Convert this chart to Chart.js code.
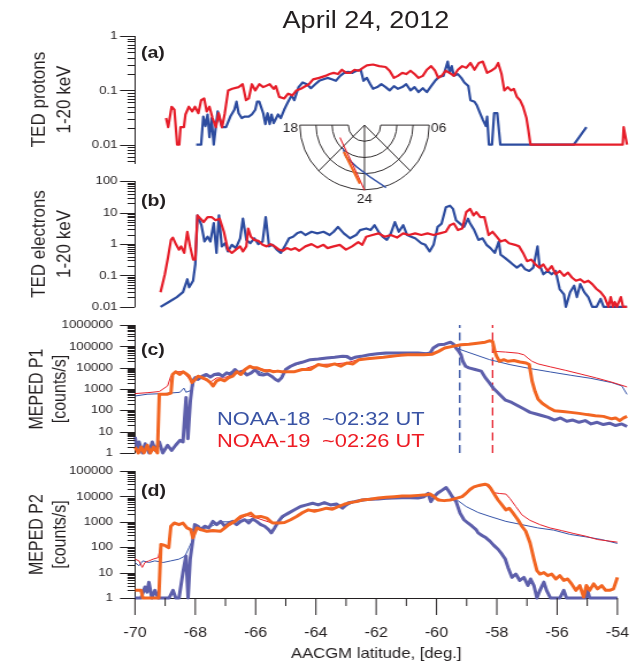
<!DOCTYPE html>
<html>
<head>
<meta charset="utf-8">
<script src="https://cdn.jsdelivr.net/npm/chart.js@4.4.1/dist/chart.umd.min.js"></script>
<style>
html, body { margin: 0; padding: 0; background: #fff; overflow: hidden; width: 639px; height: 666px; }
#fig { position: absolute; left: 0; top: 0; height: 666px; transform-origin: 0 0; font-family: 'Liberation Sans', Arial, sans-serif; color: #231f20; }
#fig canvas { position: absolute; left: 0; }
.lab { position: absolute; white-space: nowrap; line-height: 1; }
</style>
</head>
<body>
<div id="fig"></div>
<script>
// lat (AACGM, deg) / value pairs
const tedP19 = [[-68.99,0.031],[-68.92,0.021],[-68.81,0.05],[-68.72,0.044],[-68.63,0.01],[-68.56,0.01],[-68.52,0.021],[-68.41,0.021],[-68.36,0.036],[-68.25,0.05],[-68.14,0.041],[-68.05,0.05],[-67.94,0.038],[-67.85,0.066],[-67.75,0.071],[-67.67,0.041],[-67.58,0.05],[-67.48,0.031],[-67.37,0.021],[-67.28,0.038],[-67.17,0.021],[-67.08,0.038],[-66.97,0.1],[-66.84,0.107],[-66.63,0.115],[-66.5,0.13],[-66.39,0.066],[-66.3,0.071],[-66.2,0.13],[-66.09,0.1],[-65.96,0.13],[-65.83,0.115],[-65.62,0.13],[-65.49,0.107],[-65.42,0.12],[-65.31,0.076],[-65.15,0.071],[-65.02,0.087],[-64.88,0.081],[-64.75,0.1],[-64.61,0.107],[-64.48,0.118],[-64.34,0.13],[-64.21,0.16],[-64.01,0.17],[-63.81,0.185],[-63.67,0.2],[-63.54,0.21],[-63.4,0.2],[-63.27,0.24],[-63.13,0.21],[-63.0,0.21],[-62.86,0.24],[-62.73,0.23],[-62.59,0.26],[-62.46,0.29],[-62.26,0.3],[-62.06,0.28],[-61.85,0.27],[-61.72,0.23],[-61.58,0.17],[-61.45,0.185],[-61.31,0.21],[-61.18,0.2],[-61.04,0.23],[-60.91,0.2],[-60.78,0.17],[-60.64,0.185],[-60.51,0.24],[-60.37,0.28],[-60.24,0.23],[-60.14,0.17],[-60.03,0.185],[-59.9,0.23],[-59.77,0.21],[-59.63,0.185],[-59.5,0.24],[-59.36,0.28],[-59.23,0.26],[-59.09,0.32],[-58.96,0.24],[-58.82,0.32],[-58.69,0.34],[-58.55,0.21],[-58.42,0.23],[-58.28,0.26],[-58.19,0.32],[-58.08,0.2],[-57.99,0.1],[-57.88,0.115],[-57.77,0.1],[-57.68,0.107],[-57.58,0.076],[-57.48,0.066],[-57.38,0.05],[-57.27,0.031],[-57.21,0.019],[-57.14,0.01],[-54.14,0.01],[-54.11,0.021],[-54.0,0.01]];
const tedP18 = [[-68.01,0.01],[-67.85,0.01],[-67.78,0.033],[-67.71,0.022],[-67.64,0.036],[-67.58,0.0137],[-67.51,0.031],[-67.44,0.01],[-67.37,0.022],[-67.31,0.041],[-67.24,0.029],[-67.17,0.021],[-67.04,0.021],[-66.9,0.033],[-66.77,0.044],[-66.7,0.062],[-66.63,0.038],[-66.53,0.031],[-66.43,0.033],[-66.3,0.033],[-66.2,0.036],[-66.09,0.044],[-66.03,0.062],[-65.96,0.062],[-65.83,0.038],[-65.76,0.024],[-65.69,0.038],[-65.62,0.024],[-65.56,0.036],[-65.49,0.025],[-65.35,0.036],[-65.26,0.031],[-65.15,0.044],[-65.02,0.062],[-64.91,0.081],[-64.82,0.066],[-64.68,0.115],[-64.55,0.14],[-64.41,0.13],[-64.28,0.11],[-64.14,0.13],[-64.01,0.15],[-63.87,0.16],[-63.74,0.17],[-63.6,0.16],[-63.47,0.15],[-63.33,0.185],[-63.2,0.21],[-63.07,0.22],[-62.93,0.21],[-62.8,0.23],[-62.66,0.24],[-62.57,0.15],[-62.46,0.17],[-62.35,0.13],[-62.26,0.107],[-62.12,0.115],[-61.99,0.13],[-61.85,0.115],[-61.72,0.1],[-61.58,0.12],[-61.45,0.107],[-61.31,0.115],[-61.18,0.13],[-61.04,0.1],[-60.91,0.115],[-60.78,0.093],[-60.64,0.11],[-60.51,0.093],[-60.37,0.12],[-60.24,0.15],[-60.1,0.18],[-59.97,0.185],[-59.83,0.34],[-59.77,0.21],[-59.7,0.28],[-59.63,0.185],[-59.5,0.2],[-59.39,0.17],[-59.29,0.14],[-59.16,0.12],[-59.09,0.066],[-58.96,0.062],[-58.89,0.054],[-58.78,0.038],[-58.69,0.029],[-58.59,0.022],[-58.55,0.033],[-58.49,0.01],[-58.39,0.01],[-58.32,0.038],[-58.22,0.038],[-58.12,0.01],[-55.73,0.01],[-55.32,0.021]];

const tedE19 = [[-69.17,0.029],[-69.03,0.109],[-68.93,0.36],[-68.83,1.35],[-68.77,1.6],[-68.66,0.94],[-68.57,0.66],[-68.5,0.84],[-68.4,0.52],[-68.3,2.45],[-68.21,0.84],[-68.11,0.32],[-68.04,0.32],[-67.97,8.1],[-67.87,6.4],[-67.77,5.0],[-67.64,7.2],[-67.51,7.2],[-67.38,5.7],[-67.25,6.4],[-67.11,2.45],[-66.98,0.66],[-66.85,0.52],[-66.72,0.66],[-66.58,0.84],[-66.49,0.58],[-66.38,0.84],[-66.32,3.1],[-66.23,1.7],[-66.12,1.35],[-65.99,1.26],[-65.85,0.94],[-65.72,0.84],[-65.59,0.99],[-65.46,0.84],[-65.32,0.66],[-65.19,0.61],[-65.06,0.74],[-64.93,0.66],[-64.79,0.74],[-64.66,0.61],[-64.46,0.84],[-64.26,0.99],[-64.07,0.78],[-63.87,0.94],[-63.74,0.74],[-63.54,0.84],[-63.34,0.94],[-63.14,0.66],[-62.94,0.84],[-62.74,1.14],[-62.61,0.94],[-62.48,1.7],[-62.28,1.93],[-62.08,2.18],[-61.88,1.7],[-61.68,1.93],[-61.48,1.6],[-61.28,2.18],[-61.09,1.93],[-60.89,2.18],[-60.69,1.93],[-60.49,2.18],[-60.29,1.93],[-60.09,2.18],[-59.89,2.45],[-59.76,3.96],[-59.63,4.46],[-59.5,2.77],[-59.36,3.12],[-59.23,10.3],[-59.1,13.1],[-58.99,8.1],[-58.9,10.3],[-58.77,7.2],[-58.64,7.2],[-58.5,1.93],[-58.37,2.45],[-58.24,1.71],[-58.11,1.2],[-57.97,1.35],[-57.84,1.06],[-57.64,0.94],[-57.51,0.84],[-57.38,0.52],[-57.25,0.285],[-57.11,0.321],[-56.98,0.224],[-56.85,0.177],[-56.72,0.224],[-56.58,0.139],[-56.45,0.199],[-56.32,0.109],[-56.19,0.139],[-56.05,0.097],[-55.92,0.123],[-55.79,0.086],[-55.66,0.068],[-55.52,0.076],[-55.39,0.06],[-55.26,0.068],[-55.13,0.053],[-54.99,0.037],[-54.86,0.0294],[-54.73,0.0205],[-54.6,0.01],[-54.53,0.0205],[-54.46,0.01],[-54.4,0.0143],[-54.33,0.01],[-54.2,0.0205],[-54.13,0.01],[-54.0,0.01]];
const tedE18 = [[-69.17,0.01],[-68.9,0.0143],[-68.64,0.0205],[-68.44,0.0294],[-68.3,0.076],[-68.24,0.042],[-68.11,0.068],[-68.04,0.224],[-67.97,8.1],[-67.84,3.96],[-67.74,1.2],[-67.64,1.71],[-67.55,1.2],[-67.44,4.6],[-67.35,0.52],[-67.27,8.1],[-67.18,0.84],[-67.07,1.06],[-66.98,0.58],[-66.85,0.94],[-66.72,0.74],[-66.58,1.52],[-66.49,6.4],[-66.38,1.35],[-66.25,1.06],[-66.12,1.52],[-65.99,0.99],[-65.85,1.2],[-65.75,7.2],[-65.64,0.84],[-65.52,0.94],[-65.39,0.66],[-65.26,0.52],[-65.13,0.84],[-64.99,1.52],[-64.86,1.71],[-64.73,2.18],[-64.6,2.45],[-64.46,1.93],[-64.26,2.45],[-64.07,2.18],[-63.87,2.45],[-63.67,1.93],[-63.54,2.45],[-63.4,3.51],[-63.21,2.18],[-63.01,1.52],[-62.81,1.93],[-62.68,2.77],[-62.48,3.12],[-62.34,2.77],[-62.21,3.96],[-62.08,2.45],[-61.95,1.71],[-61.81,1.35],[-61.68,2.18],[-61.55,5.0],[-61.42,2.45],[-61.28,3.96],[-61.15,1.93],[-61.02,1.71],[-60.89,1.52],[-60.69,1.06],[-60.56,0.94],[-60.42,0.58],[-60.29,0.94],[-60.16,3.51],[-60.03,4.46],[-59.89,14.8],[-59.76,16.6],[-59.66,13.1],[-59.56,5.7],[-59.43,4.46],[-59.3,3.51],[-59.17,6.4],[-59.1,4.46],[-58.97,2.77],[-58.83,1.35],[-58.7,1.52],[-58.57,0.94],[-58.44,0.74],[-58.3,0.52],[-58.17,1.2],[-58.11,0.46],[-57.97,0.362],[-57.84,0.285],[-57.71,0.224],[-57.58,0.177],[-57.44,0.224],[-57.31,0.157],[-57.18,0.139],[-57.05,0.177],[-56.91,0.84],[-56.85,0.224],[-56.72,0.109],[-56.58,0.139],[-56.45,0.109],[-56.32,0.139],[-56.19,0.037],[-56.05,0.025],[-55.99,0.01],[-55.85,0.0294],[-55.72,0.047],[-55.63,0.0205],[-55.52,0.053],[-55.39,0.0294],[-55.26,0.0205],[-55.13,0.01],[-54.99,0.01],[-54.86,0.018],[-54.76,0.01],[-54.0,0.01]];

// MEPED P1 (counts/s): 0 deg telescope (thick) and 90 deg telescope (thin)
const p1n19 = [[-70,1.9],[-69.89,1],[-69.8,1.9],[-69.71,1],[-69.6,2.3],[-69.5,1],[-69.4,1.9],[-69.27,1],[-69.21,570],[-69.14,570],[-68.94,570],[-68.83,650],[-68.78,4800],[-68.68,6400],[-68.54,4800],[-68.44,6400],[-68.34,5200],[-68.24,4000],[-68.15,2000],[-68.04,2800],[-67.95,4000],[-67.81,3400],[-67.68,2800],[-67.55,2000],[-67.46,1380],[-67.35,2400],[-67.22,2800],[-67.09,2400],[-66.95,3400],[-66.82,4000],[-66.69,6400],[-66.56,4800],[-66.42,8200],[-66.26,11700],[-66.16,9800],[-66.03,9800],[-65.89,8200],[-65.76,6900],[-65.63,7400],[-65.5,6400],[-65.36,6900],[-65.23,6400],[-65.1,6400],[-64.83,6400],[-64.57,8200],[-64.3,8200],[-64.04,14000],[-63.77,11700],[-63.51,15000],[-63.31,11700],[-63.11,16700],[-62.91,15000],[-62.72,23800],[-62.45,26000],[-62.19,28500],[-61.92,30600],[-61.66,34000],[-61.39,37800],[-61.13,40600],[-60.86,40600],[-60.6,40600],[-60.33,43000],[-60.13,58000],[-59.93,83000],[-59.67,100000],[-59.4,118000],[-59.14,127000],[-58.87,141000],[-58.61,157000],[-58.48,182000],[-58.37,169000],[-58.3,58000],[-58.24,34000],[-58.15,20000],[-58.01,23800],[-57.88,20000],[-57.68,21600],[-57.48,18500],[-57.28,16700],[-57.18,14000],[-57.09,2400],[-56.99,755],[-56.89,330],[-56.75,210],[-56.56,137],[-56.36,96],[-56.09,89],[-55.83,80],[-55.56,72],[-55.3,63],[-55.03,56],[-54.77,52],[-54.5,40],[-54.37,44],[-54.24,33],[-54.11,44],[-54.0,52]];
const p1n18 = [[-70,5.6],[-69.93,1.6],[-69.87,3.3],[-69.76,1],[-69.67,2.7],[-69.54,1],[-69.44,3.3],[-69.34,1.3],[-69.21,3.3],[-69.1,1],[-68.94,2.3],[-68.81,1.3],[-68.68,2.3],[-68.54,3.9],[-68.44,3.3],[-68.34,400],[-68.28,4.7],[-68.2,280],[-68.12,2400],[-68.04,3400],[-67.95,2800],[-67.81,4000],[-67.68,4800],[-67.55,3600],[-67.42,4800],[-67.28,5200],[-67.15,4000],[-67.02,5700],[-66.89,4800],[-66.75,8200],[-66.62,5700],[-66.49,6900],[-66.36,4500],[-66.22,5700],[-66.09,8200],[-65.96,4800],[-65.83,4500],[-65.7,5200],[-65.56,4000],[-65.43,2800],[-65.34,2400],[-65.23,3400],[-65.1,8200],[-64.94,11700],[-64.77,15000],[-64.57,17900],[-64.3,23800],[-64.04,25600],[-63.77,28500],[-63.51,30600],[-63.25,34000],[-63.09,33000],[-62.98,25600],[-62.85,30600],[-62.65,34000],[-62.38,40600],[-62.12,45000],[-61.85,48500],[-61.59,48500],[-61.32,48500],[-61.06,48500],[-60.79,48500],[-60.53,45000],[-60.4,48500],[-60.3,83000],[-60.13,118000],[-59.93,127000],[-59.74,157000],[-59.64,127000],[-59.56,83000],[-59.47,58000],[-59.4,40600],[-59.34,20000],[-59.25,11700],[-59.14,9800],[-58.94,8200],[-58.74,6900],[-58.61,3400],[-58.48,2000],[-58.34,1070],[-58.15,570],[-57.95,300],[-57.75,233],[-57.55,163],[-57.35,115],[-57.15,80],[-56.95,67],[-56.75,56],[-56.56,47],[-56.36,35],[-56.16,44],[-55.96,31],[-55.76,35],[-55.56,27.5],[-55.36,33],[-55.17,23],[-54.97,27.5],[-54.77,21.5],[-54.57,24.8],[-54.37,19.3],[-54.17,23],[-54.0,17.4]];
const p1n19t = [[-70,610],[-69.6,670],[-69.21,760],[-68.94,1400],[-68.83,4200],[-68.68,6300],[-68.44,6600],[-68.15,2100],[-67.95,3600],[-67.55,2100],[-67.35,3300],[-67.09,3300],[-66.69,6300],[-66.42,8100],[-66.26,11600],[-66.03,9600],[-65.76,8000],[-65.23,6500],[-64.83,6300],[-64.57,8100],[-64.04,14000],[-63.51,15000],[-63.11,17000],[-62.72,24000],[-62.19,28000],[-61.66,33000],[-61.13,40000],[-60.6,40000],[-60.13,58000],[-59.93,83000],[-59.4,118000],[-58.87,141000],[-58.48,180000],[-58.37,170000],[-58.3,58000],[-57.95,54000],[-57.55,48000],[-57.35,40000],[-57.22,28000],[-57.09,20000],[-56.89,15000],[-56.5,11000],[-56.0,7500],[-55.5,5000],[-55.0,3300],[-54.5,2100],[-54.0,1250]];
const p1n18t = [[-70,470],[-69.6,570],[-69.07,610],[-68.54,700],[-68.41,1100],[-68.34,700],[-68.15,900],[-68.04,3000],[-67.81,3800],[-67.55,4300],[-67.15,4400],[-66.75,7600],[-66.36,4600],[-66.09,7700],[-65.7,4700],[-65.43,2800],[-65.34,2400],[-65.1,7800],[-64.94,11000],[-64.57,17000],[-64.3,23000],[-63.77,27000],[-63.25,33000],[-62.98,25000],[-62.65,34000],[-62.12,43000],[-61.59,47000],[-60.79,47000],[-60.4,48000],[-60.3,80000],[-60.13,115000],[-59.74,150000],[-59.56,90000],[-59.4,69000],[-58.48,24000],[-57.82,14000],[-57.15,9100],[-56.49,6300],[-55.83,4400],[-55.17,3150],[-54.5,2000],[-54.17,1400],[-54.0,560]];

// MEPED P2
const p2n19 = [[-70,2],[-69.8,2],[-69.74,1],[-69.21,1],[-69.14,129],[-69.01,118],[-68.88,96],[-68.81,670],[-68.7,900],[-68.54,775],[-68.41,900],[-68.28,575],[-68.15,495],[-68.08,234],[-67.95,575],[-67.82,495],[-67.62,426],[-67.42,452],[-67.16,426],[-67.02,575],[-66.89,775],[-66.69,1040],[-66.49,1630],[-66.3,1890],[-66.16,2200],[-66.03,1540],[-65.83,1630],[-65.63,1400],[-65.44,900],[-65.24,900],[-65.04,940],[-64.84,1210],[-64.64,1630],[-64.44,2330],[-64.25,2960],[-64.05,2600],[-63.85,2960],[-63.65,3440],[-63.45,3140],[-63.25,4000],[-63.06,4920],[-62.86,5700],[-62.66,6240],[-62.46,7240],[-62.2,7690],[-61.93,8670],[-61.67,9200],[-61.4,9770],[-61.14,10400],[-60.87,10400],[-60.61,11000],[-60.34,11700],[-60.21,12400],[-60.08,9770],[-59.95,7240],[-59.75,6830],[-59.55,7240],[-59.35,8410],[-59.15,9770],[-59.02,13200],[-58.89,18800],[-58.76,23900],[-58.56,27700],[-58.39,30300],[-58.29,27700],[-58.2,20600],[-58.1,13200],[-57.96,7240],[-57.83,4630],[-57.7,2960],[-57.59,3440],[-57.46,2200],[-57.3,1210],[-57.17,670],[-57.04,426],[-56.9,150],[-56.77,34],[-56.67,11.9],[-56.57,8.8],[-56.44,10],[-56.31,7.6],[-56.18,8.8],[-56.04,5.6],[-55.91,7.6],[-55.78,4.9],[-55.65,5.6],[-55.52,3.6],[-55.38,2],[-55.25,3.1],[-55.12,1.1],[-55.03,3.1],[-54.92,2],[-54.79,3.6],[-54.66,2.3],[-54.52,3.1],[-54.39,2],[-54.26,2],[-54.13,2.3],[-54.0,6.5]];
const p2n18 = [[-70,1],[-69.8,1],[-69.67,2.7],[-69.6,1.7],[-69.54,4.2],[-69.44,1],[-69.34,2],[-69.23,1],[-69.07,1],[-68.87,1],[-68.74,2],[-68.65,1],[-68.54,1],[-68.41,10],[-68.31,45],[-68.24,1],[-68.17,34],[-68.08,200],[-68.02,775],[-67.91,670],[-67.82,495],[-67.69,670],[-67.55,575],[-67.42,1040],[-67.29,775],[-67.16,1040],[-67.02,670],[-66.89,900],[-66.76,1040],[-66.63,775],[-66.49,1040],[-66.36,1210],[-66.23,900],[-66.1,1285],[-65.97,1040],[-65.83,775],[-65.7,670],[-65.57,495],[-65.48,367],[-65.37,575],[-65.24,1040],[-65.11,1630],[-64.91,2200],[-64.71,2960],[-64.51,4000],[-64.31,4630],[-64.11,5380],[-63.92,4630],[-63.72,5700],[-63.52,4630],[-63.32,5070],[-63.12,3440],[-62.92,5700],[-62.72,6240],[-62.46,7240],[-62.2,7690],[-61.93,7920],[-61.67,8410],[-61.4,8670],[-61.14,8930],[-60.87,8930],[-60.61,8670],[-60.41,9770],[-60.28,13200],[-60.19,6240],[-60.08,9770],[-59.95,14000],[-59.81,17700],[-59.68,22500],[-59.58,15300],[-59.48,9770],[-59.35,6240],[-59.22,2200],[-59.09,1210],[-58.96,900],[-58.82,670],[-58.69,495],[-58.62,367],[-58.49,289],[-58.36,234],[-58.23,174],[-58.1,118],[-57.96,83],[-57.83,53],[-57.72,34],[-57.63,16],[-57.5,6.5],[-57.37,8.8],[-57.24,4.9],[-57.1,6.5],[-56.97,3.1],[-56.88,5.6],[-56.77,3.1],[-56.67,1],[-56.57,2],[-56.44,4.2],[-56.35,2],[-56.22,1],[-55.91,1],[-55.78,2],[-55.69,1],[-55.05,1],[-54.99,2],[-54.92,1],[-54.0,1]];
const p2n19t = [[-70,34],[-69.87,29],[-69.76,16],[-69.67,25],[-69.54,29],[-69.4,34],[-69.23,39],[-69.14,129],[-69.01,118],[-68.88,110],[-68.81,640],[-68.7,860],[-68.41,860],[-68.15,480],[-67.95,560],[-67.62,410],[-67.16,410],[-66.69,1000],[-66.3,1800],[-66.03,1500],[-65.44,880],[-65.04,900],[-64.64,1560],[-64.25,2800],[-63.65,3300],[-63.25,3800],[-62.86,5500],[-62.46,7000],[-61.93,8400],[-61.4,9500],[-60.87,10000],[-60.34,11300],[-60.08,9400],[-59.75,6600],[-59.35,8100],[-59.02,12700],[-58.76,23000],[-58.39,29000],[-58.29,24000],[-58.1,14000],[-57.9,13000],[-57.7,12400],[-57.57,8410],[-57.37,4000],[-57.17,1890],[-56.9,1140],[-56.57,775],[-56.24,575],[-55.85,452],[-55.45,346],[-55.05,272],[-54.66,200],[-54.26,174],[-54.0,158]];
const p2n18t = [[-70,25],[-69.87,18.6],[-69.74,29],[-69.54,25],[-69.34,29],[-69.07,25],[-68.81,29],[-68.54,34],[-68.34,45],[-68.21,96],[-68.08,200],[-68.02,740],[-67.82,520],[-67.55,600],[-67.16,1000],[-66.76,1000],[-66.36,1150],[-66.1,1250],[-65.7,700],[-65.48,400],[-65.24,1000],[-64.91,2200],[-64.51,4200],[-64.11,5000],[-63.72,5400],[-63.12,3600],[-62.72,6000],[-62.2,7400],[-61.67,8100],[-61.14,8600],[-60.61,8400],[-60.41,9400],[-60.28,12800],[-60.08,9400],[-59.81,16500],[-59.68,21000],[-59.48,10500],[-59.29,6830],[-59.02,4000],[-58.62,2330],[-58.23,1630],[-57.7,1040],[-57.17,775],[-56.64,575],[-56.11,470],[-55.58,320],[-55.05,256],[-54.52,200],[-54.0,141]];

// isotropy boundary latitudes marked in panel (c)
const iblat18 = -59.44;
const iblat19 = -58.37;

// footprints in the MLT dial: [MLT, |lat|]
const foot19 = [[19.78,73.0],[21.62,70.5],[22.84,64.9],[23.56,57.7],[24.0,49.7]];
const foot19prec = [[21.5,69.1],[22.9,62.5],[23.7,53.7]];
const foot18 = [[21.13,70.5],[21.98,67.2],[23.29,63.7],[24.4,57.8],[25.27,49.1]];

const SX = 1.15;                 // horizontal stretch of the figure
const INK = '#231f20';
const BLUE = '#2d4c9f', RED = '#e61e2a', PURPLE = '#5d5fab', ORANGE = '#f26522';
const TBLUE = '#3553a8', TRED = '#e8202a';

Chart.defaults.font.family = "'Liberation Sans', Arial, sans-serif";
Chart.defaults.color = INK;

const fig = document.getElementById('fig');
fig.style.width = (639 / SX) + 'px';
fig.style.transform = 'scaleX(' + SX + ')';

const CW = Math.round(660 / SX);
const AXL = 135 / SX, AXR = 627 / SX;

function isDecade(v) {
  const l = Math.log10(v);
  return Math.abs(l - Math.round(l)) < 1e-6;
}
function fmt(v) {
  return v >= 1 ? String(Math.round(v)) : String(Number(v.toPrecision(1)));
}

const tickMarks = {
  id: 'tickMarks',
  afterDraw(chart) {
    const ctx = chart.ctx, y = chart.scales.y, x = chart.scales.x, a = chart.chartArea;
    ctx.save();
    ctx.strokeStyle = INK;
    ctx.lineWidth = 1;
    ctx.beginPath();
    const lo = Math.floor(Math.log10(y.min)), hi = Math.ceil(Math.log10(y.max));
    for (let e = lo; e <= hi; e++) {
      for (let s = 1; s <= 9; s++) {
        const v = s * Math.pow(10, e);
        if (v < y.min * 0.999 || v > y.max * 1.001) continue;
        const py = Math.round(y.getPixelForValue(v)) + 0.5;
        const len = (s === 1 ? 15 : 7.5) / SX;
        ctx.moveTo(a.left - len, py);
        ctx.lineTo(a.left, py);
      }
    }
    if (x.options.display) {
      for (let v = x.min; v <= x.max; v++) {
        const px = x.getPixelForValue(v);
        ctx.moveTo(px, a.bottom);
        ctx.lineTo(px, a.bottom + (v % 2 === 0 ? 17 : 8));
      }
    }
    ctx.stroke();
    ctx.restore();
  }
};

const dial = {
  id: 'dial',
  afterDraw(chart) {
    const ctx = chart.ctx;
    const off = parseFloat(chart.canvas.style.top) || 0;
    const cx = 364.5 / SX, cy = 125 - off, R = 64.7;
    const pos = (m, lat) => {
      const r = (90 - lat) / 40 * R, ph = (m - 24) * Math.PI / 12;
      return [r * Math.sin(ph), r * Math.cos(ph)];
    };
    const trace = (pts, col, w) => {
      ctx.beginPath();
      pts.forEach((p, i) => { const q = pos(p[0], p[1]); i ? ctx.lineTo(q[0], q[1]) : ctx.moveTo(q[0], q[1]); });
      ctx.strokeStyle = col; ctx.lineWidth = w; ctx.stroke();
    };
    ctx.save();
    ctx.translate(cx, cy);
    ctx.scale(1 / SX, 1);
    ctx.strokeStyle = INK;
    ctx.lineWidth = 1;
    ctx.beginPath();
    const r1 = R / 4;
    ctx.moveTo(-R, 0); ctx.lineTo(-r1, 0);
    ctx.moveTo(r1, 0); ctx.lineTo(R, 0);
    for (let k = 1; k <= 4; k++) { ctx.moveTo(k * r1, 0); ctx.arc(0, 0, k * r1, 0, Math.PI); }
    const d = R * Math.SQRT1_2;
    ctx.moveTo(0, 0); ctx.lineTo(0, R);
    ctx.moveTo(0, 0); ctx.lineTo(-d, d);
    ctx.moveTo(0, 0); ctx.lineTo(d, d);
    ctx.stroke();
    ctx.lineJoin = 'round';
    trace(foot18, TBLUE, 1.6);
    trace(foot19, TRED, 1.2);
    trace(foot19prec, ORANGE, 2.6);
    ctx.restore();
    ctx.save();
    ctx.fillStyle = INK;
    ctx.font = "12px 'Liberation Sans', Arial, sans-serif";
    ctx.textBaseline = 'middle';
    ctx.textAlign = 'right';
    ctx.fillText('18', cx - R / SX - 1.5, cy + 3.5);
    ctx.textAlign = 'left';
    ctx.fillText('06', cx + R / SX + 1.5, cy + 3.5);
    ctx.textAlign = 'center';
    ctx.fillText('24', cx, cy + R + 10);
    ctx.restore();
  }
};

function line(data, color, width, extra) {
  return Object.assign({ data: data, borderColor: color, borderWidth: width, pointRadius: 0,
    tension: 0, fill: false, borderJoinStyle: 'round', clip: 6 }, extra || {});
}

function config(cfg) {
  const big = cfg.ted;
  const xs = { type: 'linear', min: -70, max: -54, display: !!cfg.xaxis };
  if (cfg.xaxis) {
    Object.assign(xs, {
      position: 'bottom',
      afterFit(s) { s.height = 66; },
      border: { display: true, color: INK, width: 1 },
      grid: { display: false, drawTicks: false },
      ticks: { stepSize: 1, autoSkip: false, maxRotation: 0, padding: 27, font: { size: 14 }, color: INK,
        callback: v => (v % 2 === 0 ? String(v) : '') },
      title: { display: true, text: 'AACGM latitude, [deg.]', font: { size: 14.5 }, color: INK, padding: { top: 0, bottom: 1.5 } }
    });
  }
  const tf = big ? { size: 17, lineHeight: 1.27 } : { size: 16, lineHeight: 1.2 };
  const tpad = big ? 40 / SX - 17 * 1.27 / 2 : 38 / SX - 16 * 1.2 / 2;
  return {
    type: 'line',
    data: { datasets: cfg.datasets() },
    options: {
      responsive: false,
      animation: false,
      events: [],
      layout: { padding: { top: 14, bottom: cfg.pb, left: 0, right: CW - AXR } },
      plugins: { legend: { display: false }, tooltip: { enabled: false } },
      scales: {
        x: xs,
        y: {
          type: 'logarithmic', min: cfg.min, max: cfg.max, position: 'left',
          afterFit(s) { s.width = AXL; },
          border: { display: true, color: INK, width: 1 },
          grid: { display: false, drawTicks: false },
          ticks: { autoSkip: false, padding: (big ? 17.5 : 22) / SX, font: { size: 11.5 }, color: INK,
            callback: v => (isDecade(v) ? fmt(v) : '') },
          title: { display: true, text: cfg.title, color: INK, font: tf, padding: { top: tpad, bottom: 0 } }
        }
      }
    },
    plugins: [tickMarks].concat(cfg.extra || [])
  };
}

// builds the chart, then rebuilds it once so that its plot area lands on [top, bottom]
function panel(cfg) {
  let h = cfg.h, topPx = cfg.top - 14, chart = null, c = null;
  for (let pass = 0; pass < 2; pass++) {
    if (chart) { chart.destroy(); c.remove(); }
    c = document.createElement('canvas');
    c.width = CW;
    c.height = Math.round(h);
    c.style.top = topPx + 'px';
    fig.appendChild(c);
    chart = new Chart(c, config(cfg));
    const a = chart.chartArea;
    h += (cfg.bottom - cfg.top) - (a.bottom - a.top);
    topPx = cfg.top - a.top;
  }
  return chart;
}

// (b), (c), (d) first so the dial of (a) paints above them
panel({ top: 181, bottom: 307, h: 154, pb: 14, min: 0.01, max: 100, ted: true, title: ['TED electrons', '1-20 keV'],
  datasets: () => [line(tedE19, RED, 2.2), line(tedE18, BLUE, 2.2)] });
panel({ top: 325, bottom: 453, h: 156, pb: 14, min: 1, max: 1e6, title: ['MEPED P1', '[counts/s]'],
  datasets: () => [line(p1n19, ORANGE, 3), line(p1n18, PURPLE, 3), line(p1n19t, TRED, 1), line(p1n18t, TBLUE, 1),
    line([[iblat18, 1], [iblat18, 1e6]], BLUE, 1.3, { borderDash: [8, 4.5] }),
    line([[iblat19, 1], [iblat19, 1e6]], RED, 1.3, { borderDash: [8, 4.5] })] });
panel({ top: 471, bottom: 598, h: 232, pb: 25, min: 1, max: 1e5, xaxis: true, title: ['MEPED P2', '[counts/s]'],
  datasets: () => [line(p2n19, ORANGE, 3), line(p2n18, PURPLE, 3), line(p2n19t, TRED, 1), line(p2n18t, TBLUE, 1)] });
panel({ top: 36, bottom: 163, h: 200, pb: 59, min: 0.0046, max: 1, ted: true, title: ['TED protons', '1-20 keV'],
  datasets: () => [line(tedP19, RED, 2.2), line(tedP18, BLUE, 2.2)], extra: [dial] });

function label(text, xRef, yMid, size, opts) {
  const d = document.createElement('div');
  d.className = 'lab';
  d.textContent = text;
  d.style.left = (xRef / SX) + 'px';
  d.style.top = (yMid - size / 2) + 'px';
  d.style.fontSize = size + 'px';
  if (opts.bold) d.style.fontWeight = 'bold';
  if (opts.color) d.style.color = opts.color;
  if (opts.center) d.style.transform = 'translateX(-50%)';
  fig.appendChild(d);
}

label('April 24, 2012', 366, 21, 23.5, { center: true });
label('(a)', 141, 52, 17, { bold: true });
label('(b)', 141, 200, 17, { bold: true });
label('(c)', 141, 349.5, 17, { bold: true });
label('(d)', 141, 490, 17, { bold: true });
label('NOAA-18', 217, 418, 19, { color: '#3953a4' });
label('~02:32 UT', 322, 418, 19, { color: '#3953a4' });
label('NOAA-19', 217, 440, 19, { color: '#ed1c24' });
label('~02:26 UT', 322, 440, 19, { color: '#ed1c24' });
</script>
</body>
</html>
